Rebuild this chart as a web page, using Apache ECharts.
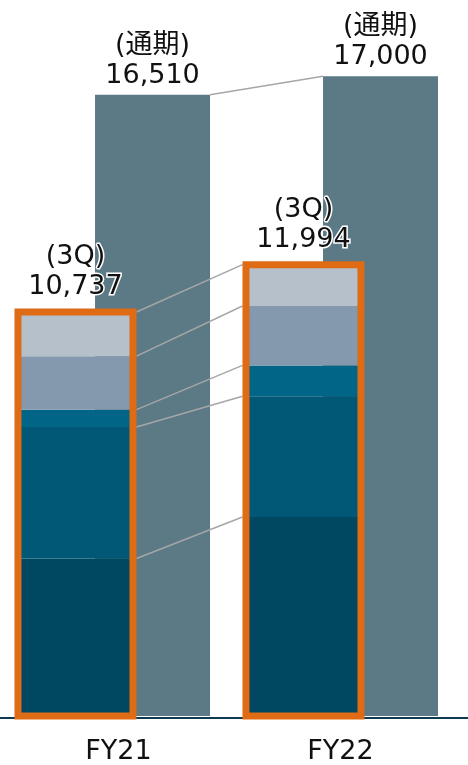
<!DOCTYPE html>
<html>
<head>
<meta charset="utf-8">
<script src="https://cdn.jsdelivr.net/npm/echarts@6/dist/echarts.min.js"></script>
<style>
  html, body { margin: 0; padding: 0; background: #ffffff; }
  #chart { width: 468px; height: 765px; }
</style>
</head>
<body>
<div id="chart"></div>
<script>
// Fiscal years and values
const categories = ['FY21', 'FY22'];
const fullYear = [16510, 17000];          // full-year totals
const total3Q = [10737, 11994];           // cumulative through 3Q
// 3Q breakdown, bottom to top
const seg1 = [4185, 5290];
const seg2 = [3497, 3205];
const seg3 = [458, 821];
const seg4 = [1422, 1579];
const seg5 = [1175, 1099];
const fullTag = '(通期)';
const qTag = '(3Q)';

const segments = [seg1, seg2, seg3, seg4, seg5];
const segColors = ['#004862', '#005876', '#006586', '#8499ad', '#b5c0ca'];

const BAR_W = 115;
const GAP = -0.33;
const STACK_SHIFT = -BAR_W * (1 + GAP) / 2;   // centre of the 3Q stack relative to the category centre
const FULL_SHIFT = -STACK_SHIFT;
const FRAME_W = 7;
const ORANGE = '#df6b14';
const FONT = '"DejaVu Sans", "Noto Sans CJK JP", sans-serif';

const fmt = v => Number(v).toLocaleString('en-US');

// cumulative boundaries of the stack for the connector lines
const boundaries = [];
let acc = [0, 0];
segments.forEach(s => {
  acc = [acc[0] + s[0], acc[1] + s[1]];
  boundaries.push([0, acc[0], acc[1]]);
});

const chart = echarts.init(document.getElementById('chart'), null, { renderer: 'canvas' });

const series = [];
segments.forEach((s, k) => {
  series.push({
    type: 'bar',
    stack: 'q3',
    xAxisIndex: 0, yAxisIndex: 0,
    barWidth: BAR_W,
    barGap: '-33%',
    data: s,
    itemStyle: { color: segColors[k] },
    z: 2,
    silent: true
  });
});
series.push({
  type: 'bar',
  xAxisIndex: 0, yAxisIndex: 0,
  barWidth: BAR_W,
  barGap: '-33%',
  data: fullYear,
  itemStyle: { color: '#5b7a85' },
  z: 1,
  silent: true,
  label: {
    show: true,
    position: 'top',
    distance: 4,
    formatter: p => fullTag + '\n' + fmt(p.value),
    fontFamily: FONT,
    fontSize: 27,
    lineHeight: 30,
    color: '#111111'
  }
});
// connectors between the stack boundaries
series.push({
  type: 'custom',
  xAxisIndex: 0, yAxisIndex: 0,
  encode: { x: 0, y: [1, 2] },
  data: boundaries,
  z: 5,
  silent: true,
  renderItem: (params, api) => {
    const a = api.coord([0, api.value(1)]);
    const b = api.coord([1, api.value(2)]);
    return {
      type: 'line',
      shape: {
        x1: a[0] + STACK_SHIFT + BAR_W / 2 + FRAME_W / 2, y1: a[1],
        x2: b[0] + STACK_SHIFT - BAR_W / 2 - FRAME_W / 2, y2: b[1]
      },
      style: { stroke: '#a6a6a6', lineWidth: 1.5 }
    };
  }
});
// connector between the full-year bar tops
series.push({
  type: 'custom',
  xAxisIndex: 0, yAxisIndex: 0,
  encode: { x: 0, y: [1, 2] },
  data: [[0, fullYear[0], fullYear[1]]],
  z: 5,
  silent: true,
  renderItem: (params, api) => {
    const a = api.coord([0, api.value(1)]);
    const b = api.coord([1, api.value(2)]);
    return {
      type: 'line',
      shape: {
        x1: a[0] + FULL_SHIFT + BAR_W / 2, y1: a[1],
        x2: b[0] + FULL_SHIFT - BAR_W / 2, y2: b[1]
      },
      style: { stroke: '#a6a6a6', lineWidth: 1.5 }
    };
  }
});
// orange frame round each 3Q stack, with its total
series.push({
  type: 'custom',
  xAxisIndex: 0, yAxisIndex: 0,
  encode: { x: 0, y: 1 },
  data: total3Q.map((v, i) => [i, v]),
  z: 6,
  silent: true,
  renderItem: (params, api) => {
    const i = api.value(0);
    const top = api.coord([i, api.value(1)]);
    const base = api.coord([i, 0]);
    return {
      type: 'rect',
      shape: {
        x: top[0] + STACK_SHIFT - BAR_W / 2,
        y: top[1],
        width: BAR_W,
        height: base[1] - top[1]
      },
      style: { fill: 'none', stroke: ORANGE, lineWidth: FRAME_W },
      textContent: {
        style: {
          text: qTag + '\n' + fmt(api.value(1)),
          fontFamily: FONT,
          fontSize: 27,
          lineHeight: 30,
          fill: '#111111',
          stroke: '#ffffff',
          lineWidth: 3,
          align: 'center'
        }
      },
      textConfig: { position: 'top', distance: 6 }
    };
  }
});

chart.setOption({
  animation: false,
  backgroundColor: '#ffffff',
  grid: [
    { left: -1, width: 457, top: 1, bottom: 47 },
    { left: 0, right: 0, top: 1, bottom: 47 }
  ],
  xAxis: [
    {
      type: 'category',
      gridIndex: 0,
      data: categories,
      axisLine: { show: false },
      axisTick: { show: false },
      axisLabel: {
        margin: 22,
        fontFamily: FONT,
        fontSize: 27,
        color: '#111111',
        formatter: (v, i) => (i === 0 ? '{a|' + v + '}' : '{b|' + v + '}'),
        rich: {
          a: { fontFamily: FONT, fontSize: 27, color: '#111111', padding: [0, 0, 0, 9] },
          b: { fontFamily: FONT, fontSize: 27, color: '#111111', padding: [0, 3, 0, 0] }
        }
      }
    },
    {
      type: 'category',
      gridIndex: 1,
      data: categories,
      axisLine: { show: true, lineStyle: { color: '#0e3a50', width: 2 } },
      axisTick: { show: false },
      axisLabel: { show: false }
    }
  ],
  yAxis: [
    { type: 'value', gridIndex: 0, min: 0, max: 19000, show: false },
    { type: 'value', gridIndex: 1, min: 0, max: 19000, show: false }
  ],
  series: series
});
</script>
</body>
</html>
